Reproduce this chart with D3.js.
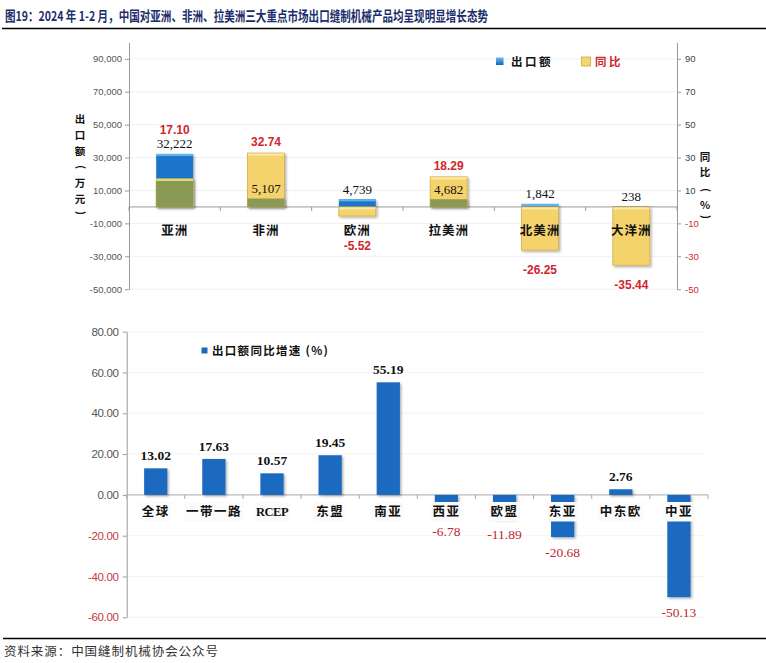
<!DOCTYPE html>
<html><head><meta charset="utf-8">
<script src="https://cdn.jsdelivr.net/npm/d3@7"></script>
<style>body{margin:0;background:#fff;} svg{display:block;}</style>
</head><body><svg id="c" width="766" height="663"></svg>
<script>
// ---------- data ----------
const regions = ["亚洲","非洲","欧洲","拉美洲","北美洲","大洋洲"];
const exportValues = [32222, 5107, 4739, 4682, 1842, 238];        // 出口额（万元）
const yoyValues = [17.10, 32.74, -5.52, 18.29, -26.25, -35.44];   // 同比（%）
const leftTicks = [90000, 70000, 50000, 30000, 10000, -10000, -30000, -50000];
const rightTicks = [90, 70, 50, 30, 10, -10, -30, -50];

const markets = ["全球","一带一路","RCEP","东盟","南亚","西亚","欧盟","东亚","中东欧","中亚"];
const growthValues = [13.02, 17.63, 10.57, 19.45, 55.19, -6.78, -11.89, -20.68, 2.76, -50.13];
const bottomTicks = [80, 60, 40, 20, 0, -20, -40, -60];

const titleText = "图19：2024 年 1-2 月，中国对亚洲、非洲、拉美洲三大重点市场出口缝制机械产品均呈现明显增长态势";
const sourceText = "资料来源：中国缝制机械协会公众号";

// ---------- setup ----------
const svg = d3.select("#c");
const CJK = "'Noto Sans CJK SC', sans-serif";
const SERIF = "'Liberation Serif', 'Noto Sans CJK SC', serif";
const SANS = "'Liberation Sans', 'Noto Sans CJK SC', sans-serif";
const RED = "#d1262c";

const defs = svg.append("defs");
const f = defs.append("filter").attr("id","sh").attr("x","-20%").attr("y","-20%").attr("width","160%").attr("height","160%");
f.append("feDropShadow").attr("dx",1.5).attr("dy",1.5).attr("stdDeviation",1.2)
  .attr("flood-color","#000").attr("flood-opacity",0.3);
const lg = defs.append("linearGradient").attr("id","legBlue").attr("x1",0).attr("y1",0).attr("x2",0).attr("y2",1);
lg.append("stop").attr("offset","0%").attr("stop-color","#6fb9f0");
lg.append("stop").attr("offset","100%").attr("stop-color","#1766b8");

// title
svg.append("text").attr("x",5).attr("y",21)
  .attr("font-family",CJK).attr("font-weight","bold").attr("font-size",13.5)
  .attr("fill","#1b2d6b").attr("textLength",483).attr("lengthAdjust","spacingAndGlyphs")
  .text(titleText);
svg.append("line").attr("x1",2).attr("x2",766).attr("y1",28.5).attr("y2",28.5)
  .attr("stroke","#000").attr("stroke-width",1.6);

// ---------- top chart ----------
const T = {left:129, right:677, top:42.4, bottom:289.2};
const xT = d3.scaleBand().domain(regions).range([T.left,T.right]).paddingInner(0.595).paddingOuter(0.2975);
const yL = d3.scaleLinear().domain([-50000,100000]).range([T.bottom,T.top]);
const yR = d3.scaleLinear().domain([-50,100]).range([T.bottom,T.top]);
const y0 = yL(0);
const topG = svg.append("g");

// gridlines
topG.selectAll(".g").data(leftTicks).join("line")
  .attr("x1",T.left).attr("x2",T.right).attr("y1",d=>yL(d)).attr("y2",d=>yL(d))
  .attr("stroke","#ececec").attr("stroke-width",0.8);

// axes
const fmtL = d => (d<0?"-":"") + d3.format(",")(Math.abs(d));
const axL = topG.append("g").attr("transform",`translate(${T.left},0)`)
  .call(d3.axisLeft(yL).tickValues(leftTicks).tickSize(4).tickSizeOuter(0).tickFormat(fmtL));
axL.selectAll("path,line").attr("stroke","#9a9a9a");
axL.selectAll("text").attr("font-family",SANS).attr("font-size",9.5).attr("fill","#555");
const axR = topG.append("g").attr("transform",`translate(${T.right},0)`)
  .call(d3.axisRight(yR).tickValues(rightTicks).tickSize(4).tickSizeOuter(0).tickFormat(d=>(d<0?"-":"")+Math.abs(d)));
axR.selectAll("path,line").attr("stroke","#9a9a9a");
axR.selectAll("text").attr("font-family",SANS).attr("font-size",9.5).attr("fill",d=>d<0?RED:"#444").attr("x",8);

// zero line & category ticks
topG.append("line").attr("x1",T.left).attr("x2",T.right).attr("y1",y0).attr("y2",y0).attr("stroke","#9a9a9a");
topG.selectAll(".ct").data(d3.range(regions.length+1)).join("line")
  .attr("x1",i=>T.left+i*xT.step()).attr("x2",i=>T.left+i*xT.step())
  .attr("y1",y0).attr("y2",y0+4).attr("stroke","#9a9a9a");

// bars
const bw = xT.bandwidth();
regions.forEach((r,i)=>{
  const x = xT(r);
  const ev = exportValues[i], pv = yoyValues[i];
  const yb = yL(ev), yy = yR(pv);
  const g = topG.append("g");
  // blue
  g.append("rect").attr("x",x).attr("y",Math.min(yb,y0)).attr("width",bw).attr("height",Math.abs(yb-y0))
    .attr("fill","#1d74c9").attr("filter","url(#sh)");
  if (Math.abs(yb-y0)>2) g.append("rect").attr("x",x).attr("y",Math.min(yb,y0)).attr("width",bw).attr("height",2.2).attr("fill","#63b3ee");
  else g.append("rect").attr("x",x).attr("y",Math.min(yb,y0)).attr("width",bw).attr("height",Math.abs(yb-y0)).attr("fill","#3d95dc");
  // yellow
  g.append("rect").attr("x",x).attr("y",Math.min(yy,y0)).attr("width",bw).attr("height",Math.abs(yy-y0))
    .attr("fill","#f4d36c").attr("stroke","#d2ae45").attr("stroke-width",0.8).attr("filter","url(#sh)");
  g.append("rect").attr("x",x+0.5).attr("y",Math.min(yy,y0)+0.5).attr("width",bw-1).attr("height",2).attr("fill","#fbeaa8");
  // overlap (olive)
  if (ev*pv>0) {
    const inner = ev>0 ? Math.max(yb,yy) : Math.min(yb,yy);
    g.append("rect").attr("x",x).attr("y",Math.min(inner,y0)).attr("width",bw).attr("height",Math.abs(inner-y0))
      .attr("fill","#8a9a54");
    if (yy>yb) g.append("rect").attr("x",x).attr("y",inner).attr("width",bw).attr("height",2.2).attr("fill","#d3dc86");
  }
  // labels
  const expC = yb - 10;
  topG.append("text").attr("x",x+bw/2).attr("y",expC+4.5).attr("text-anchor","middle")
    .attr("font-family",SERIF).attr("font-size",13).attr("fill","#111").text(d3.format(",")(ev));
  let pc;
  if (pv>=0) pc = Math.min(yy-11, expC-14);
  else pc = Math.max(yy+20, 246);
  topG.append("text").attr("x",x+bw/2).attr("y",pc+4).attr("text-anchor","middle")
    .attr("font-family",SANS).attr("font-weight","bold").attr("font-size",12).attr("fill",RED)
    .text(d3.format(".2f")(pv).replace("\u2212","-"));
  topG.append("text").attr("x",x+bw/2).attr("y",230+4.5).attr("text-anchor","middle")
    .attr("font-family",CJK).attr("font-weight","bold").attr("font-size",12.5).attr("fill","#111")
    .attr("letter-spacing",1).text(r);
});

// top legend
topG.append("rect").attr("x",496).attr("y",57.5).attr("width",7.5).attr("height",7.5).attr("fill","url(#legBlue)");
topG.append("text").attr("x",511).attr("y",66).attr("font-family",CJK).attr("font-weight","bold")
  .attr("font-size",11.5).attr("letter-spacing",2.5).attr("fill","#111").text("出口额");
topG.append("rect").attr("x",581.5).attr("y",57).attr("width",9).attr("height",9).attr("fill","#f6d86f")
  .attr("stroke","#c9a840").attr("stroke-width",0.8);
topG.append("text").attr("x",595).attr("y",66).attr("font-family",CJK).attr("font-weight","bold")
  .attr("font-size",11.5).attr("letter-spacing",2.5).attr("fill",RED).text("同比");

// vertical axis titles (parentheses drawn rotated, as in vertical text)
function vTitle(chars, ys, x) {
  chars.forEach((c,i)=>{
    const isParen = (c==="(" || c===")");
    const t = topG.append("text").attr("text-anchor","middle")
      .attr("font-family",CJK).attr("font-weight","bold").attr("font-size",10.5).attr("fill","#111").text(c);
    if (isParen) t.attr("transform",`translate(${x},${ys[i]}) rotate(90)`).attr("y",3.5);
    else t.attr("x",x).attr("y",ys[i]+4);
  });
}
vTitle(["出","口","额","(","万","元",")"], [119,135,151,167,183,199,213], 80);
vTitle(["同","比","(","%",")"], [157,172,190,205,217], 705);

// ---------- bottom chart ----------
const B = {left:126.7, right:708, top:331.7, bottom:617.3};
const xB = d3.scaleBand().domain(markets).range([B.left,B.right]).paddingInner(0.6).paddingOuter(0.3);
const yB = d3.scaleLinear().domain([-60,80]).range([B.bottom,B.top]);
const z = yB(0);
const bot = svg.append("g");

bot.selectAll(".g").data(bottomTicks.filter(d=>d!==0)).join("line")
  .attr("x1",B.left).attr("x2",B.right-3).attr("y1",d=>yB(d)).attr("y2",d=>yB(d))
  .attr("stroke","#f0f0f0").attr("stroke-width",0.8);

const axB = bot.append("g").attr("transform",`translate(${B.left},0)`)
  .call(d3.axisLeft(yB).tickValues(bottomTicks).tickSize(4).tickSizeOuter(0)
    .tickFormat(d=>(d<0?"-":"")+d3.format(".2f")(Math.abs(d))));
axB.selectAll("path,line").attr("stroke","#9a9a9a");
axB.selectAll("text").attr("font-family",SANS).attr("font-size",11.5).attr("letter-spacing",-0.3)
  .attr("fill",d=>d<0?"#c0393e":"#555").attr("x",-8);

bot.append("line").attr("x1",B.left).attr("x2",B.right).attr("y1",z).attr("y2",z).attr("stroke","#a8a8a8");
bot.selectAll(".ct").data(d3.range(markets.length+1)).join("line")
  .attr("x1",i=>B.left+i*xB.step()).attr("x2",i=>B.left+i*xB.step())
  .attr("y1",z).attr("y2",z+4).attr("stroke","#a8a8a8");

bot.selectAll(".bar").data(growthValues).join("rect")
  .attr("x",(d,i)=>xB(markets[i])).attr("width",xB.bandwidth())
  .attr("y",d=>Math.min(yB(d),z)).attr("height",d=>Math.abs(yB(d)-z))
  .attr("fill","#1a6bbf").attr("filter","url(#sh)");

// category labels with backgrounds
markets.forEach((m,i)=>{
  const cx = xB(m)+xB.bandwidth()/2;
  const bg = bot.append("rect");
  const t = bot.append("text").attr("x",cx).attr("y",511.7+4.5).attr("text-anchor","middle")
    .attr("font-family", m==="RCEP"?SERIF:CJK).attr("font-weight","bold").attr("font-size",12.5)
    .attr("letter-spacing", m==="RCEP"?-0.5:1.5).attr("fill","#111").text(m);
  const w = t.node().getComputedTextLength();
  bg.attr("x",cx-w/2-2).attr("y",502).attr("width",w+4).attr("height",19.5).attr("fill","#fbfbfb");
});

// value labels
growthValues.forEach((v,i)=>{
  const cx = xB(markets[i])+xB.bandwidth()/2;
  const yv = yB(v);
  const c = v>=0 ? yv-12.5 : Math.max(yv+15, 531.5);
  bot.append("text").attr("x",cx).attr("y",c+4.5).attr("text-anchor","middle")
    .attr("font-family",SERIF).attr("font-size",13.5).attr("font-weight", v>=0?"bold":"normal")
    .attr("fill", v>=0?"#111":"#c0282f").text(d3.format(".2f")(v).replace("\u2212","-"));
});

// bottom legend
bot.append("rect").attr("x",201.5).attr("y",347.5).attr("width",6).attr("height",6).attr("fill","#1a6bbf");
bot.append("text").attr("x",212).attr("y",355).attr("font-family",CJK).attr("font-weight","bold")
  .attr("font-size",11.5).attr("letter-spacing",1.3).attr("fill","#111").text("出口额同比增速 (%)");

// footer
svg.append("line").attr("x1",3).attr("x2",766).attr("y1",638.5).attr("y2",638.5).attr("stroke","#000").attr("stroke-width",1.4);
svg.append("text").attr("x",4).attr("y",656).attr("font-family",CJK).attr("font-size",12.5)
  .attr("fill","#333").attr("textLength",214).attr("lengthAdjust","spacing").text(sourceText);
</script></body></html>
